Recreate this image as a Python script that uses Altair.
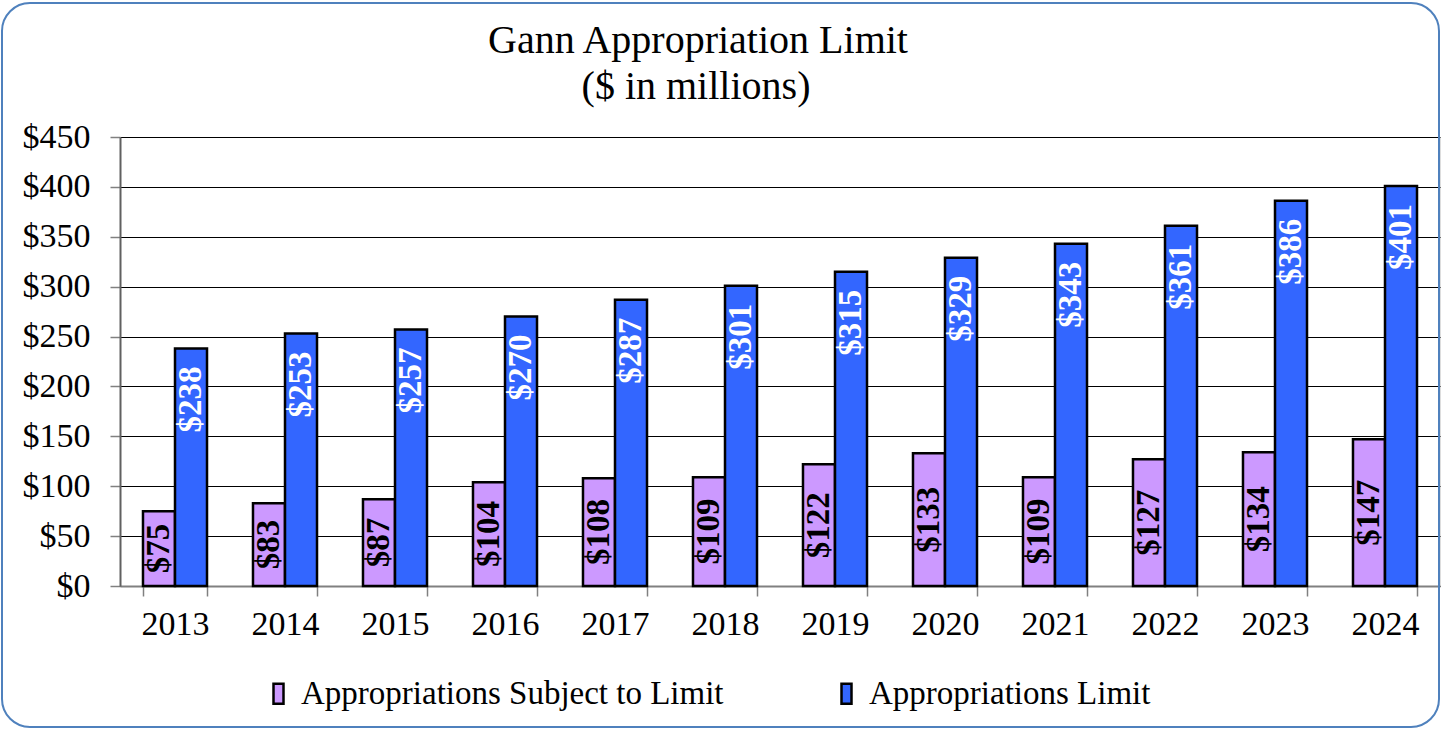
import altair as alt
import pandas as pd

years = ["2013", "2014", "2015", "2016", "2017", "2018", "2019", "2020", "2021", "2022", "2023", "2024"]
subject = [75, 83, 87, 104, 108, 109, 122, 133, 109, 127, 134, 147]
limit = [238, 253, 257, 270, 287, 301, 315, 329, 343, 361, 386, 401]
series_names = ["Appropriations Subject to Limit", "Appropriations Limit"]
colors = ["#CC99FF", "#3366FF"]
y_ticks = [0, 50, 100, 150, 200, 250, 300, 350, 400, 450]
title_lines = ["Gann Appropriation Limit", "($ in millions)"]

rows = []
for i, yr in enumerate(years):
    rows.append({"year": yr, "series": series_names[0], "value": subject[i]})
    rows.append({"year": yr, "series": series_names[1], "value": limit[i]})
df = pd.DataFrame(rows)

SERIF = "Liberation Serif"

x_enc = alt.X(
    "year:N",
    title=None,
    sort=years,
    scale=alt.Scale(paddingInner=0.418, paddingOuter=0.209),
    axis=alt.Axis(
        labelAngle=0, labelFont=SERIF, labelFontSize=34, labelColor="black",
        tickBand="extent", tickSize=10, tickColor="#808080", tickWidth=1.5,
        domainColor="#808080", domainWidth=2, labelPadding=11, grid=False,
    ),
)
xoff_enc = alt.XOffset("series:N", sort=series_names,
                       scale=alt.Scale(domain=series_names, paddingInner=0, paddingOuter=0))
y_axis = alt.Axis(
    values=y_ticks, labelExpr="'$' + datum.value", labelFont=SERIF, labelFontSize=34,
    labelColor="black", tickSize=10, tickColor="#808080", tickWidth=1.5,
    domainColor="#606060", domainWidth=2, labelPadding=20, grid=True,
    gridColor="black", gridWidth=1, title=None,
)
y_scale = alt.Scale(domain=[0, 450], nice=False)

base = alt.Chart(df)

bars = base.mark_bar(stroke="black", strokeWidth=2.5).encode(
    x=x_enc,
    xOffset=xoff_enc,
    y=alt.Y("value:Q", scale=y_scale, axis=y_axis),
    color=alt.Color(
        "series:N",
        scale=alt.Scale(domain=series_names, range=colors),
        legend=alt.Legend(
            title=None, orient="none", legendX=142, legendY=540, direction="horizontal",
            symbolType="M-0.5,-1H0.5V1H-0.5Z", symbolSize=400,
            symbolStrokeColor="black", symbolStrokeWidth=2.5,
            labelFont=SERIF, labelFontSize=33, labelColor="black", labelOffset=6,
            columnPadding=106, labelLimit=0,
        ),
    ),
)

sub_text = base.transform_filter(
    alt.datum.series == series_names[0]
).transform_calculate(
    mid="datum.value / 2", label="'$' + datum.value"
).mark_text(
    angle=270, align="center", baseline="middle", font=SERIF, fontWeight="bold",
    fontSize=33, color="black",
).encode(
    x=alt.X("year:N", sort=years),
    xOffset=xoff_enc,
    y=alt.Y("mid:Q", scale=y_scale),
    text="label:N",
)

lim_text = base.transform_filter(
    alt.datum.series == series_names[1]
).transform_calculate(
    label="'$' + datum.value"
).mark_text(
    angle=270, align="right", baseline="middle", dx=-18, font=SERIF, fontWeight="bold",
    fontSize=33, color="white",
).encode(
    x=alt.X("year:N", sort=years),
    xOffset=xoff_enc,
    y=alt.Y("value:Q", scale=y_scale),
    text="label:N",
)

one = pd.DataFrame({"a": [0]})

frame = alt.Chart(one).mark_rect(
    filled=False, stroke="#4F81BD", strokeWidth=2, cornerRadius=28,
).encode(
    x=alt.value(-118), x2=alt.value(1319), y=alt.value(-134), y2=alt.value(590),
)

title1 = alt.Chart(one).mark_text(
    font=SERIF, fontSize=40, color="black", align="center", baseline="alphabetic",
).encode(x=alt.value(578), y=alt.value(-84), text=alt.value(title_lines[0]))

title2 = alt.Chart(one).mark_text(
    font=SERIF, fontSize=40, color="black", align="center", baseline="alphabetic",
).encode(x=alt.value(576), y=alt.value(-38), text=alt.value(title_lines[1]))

chart = alt.layer(frame, title1, title2, bars, sub_text, lim_text).properties(
    width=1320,
    height=449,
    autosize="none",
    padding={"left": 120, "top": 137, "right": 2, "bottom": 144},
).configure_view(stroke=None).configure(background="white")

chart.save("out.html", embed_options={"renderer": "svg", "actions": False})
